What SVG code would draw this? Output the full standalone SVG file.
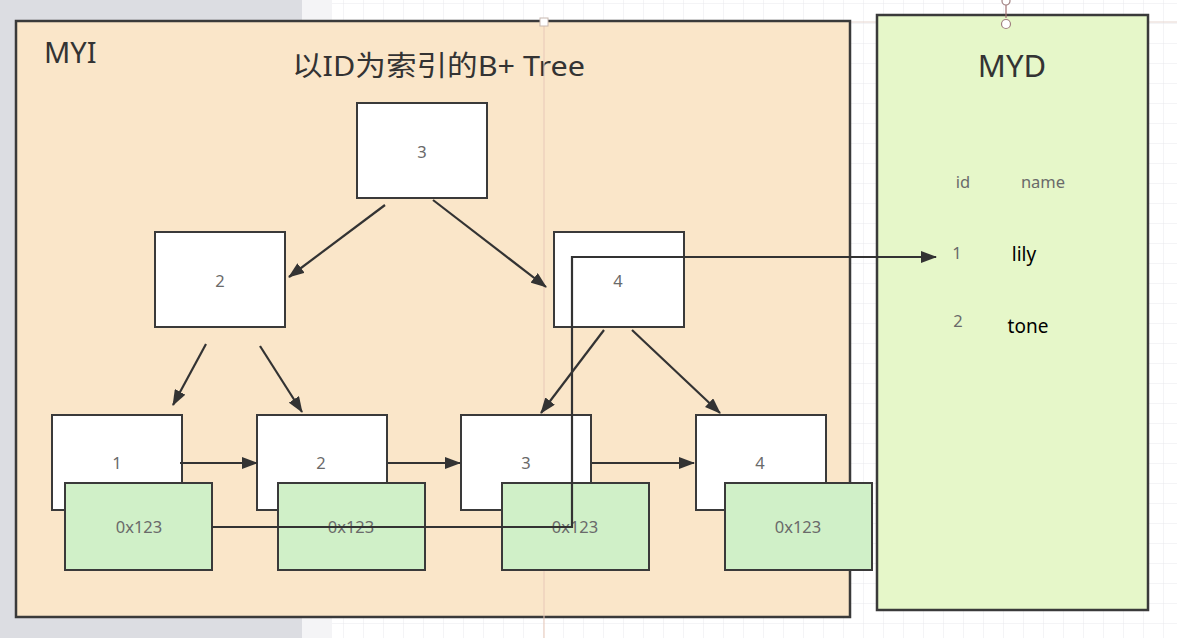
<svg xmlns="http://www.w3.org/2000/svg" width="1177" height="638" viewBox="0 0 1177 638">
<defs>
<pattern id="grid" width="20" height="20" patternUnits="userSpaceOnUse" x="4" y="4">
<path d="M20 0 V20 M0 20 H20" fill="none" stroke="#e9e9ec" stroke-width="1"/>
</pattern>
<marker id="arrBig" viewBox="0 0 16 12" refX="15" refY="6" markerWidth="16" markerHeight="12" markerUnits="userSpaceOnUse" orient="auto">
<path d="M0 0 L16 6 L0 12 Z" fill="#333"/>
</marker>
</defs>
<style>
.box{fill:#ffffff;stroke:#3a3a3a;stroke-width:2}
.ptr{fill:#d0f0c8;stroke:#3a3a3a;stroke-width:2}
.lbl{font-family:"Noto Sans","Noto Sans CJK SC",sans-serif;font-size:16.5px;fill:#6a6a6a;text-anchor:middle}
.big{font-family:"Noto Sans","Noto Sans CJK SC",sans-serif;fill:#333}
.val{font-family:"Noto Sans","Noto Sans CJK SC",sans-serif;font-size:19px;fill:#000;text-anchor:middle}
.edge{stroke:#333;stroke-width:2.2;fill:none}
</style>
<rect width="1177" height="638" fill="#ffffff"/>
<rect x="300" y="0" width="877" height="638" fill="url(#grid)"/>
<rect x="0" y="0" width="302" height="638" fill="#dcdde2"/>
<rect x="302" y="0" width="30" height="638" fill="#f4f4f6"/>
<line x1="850" y1="22" x2="1177" y2="22" stroke="#e6d6d0" stroke-width="1"/>

<g id="MYI">
<rect x="16" y="21" width="834" height="596" fill="#fae6c9" stroke="#3a3a3a" stroke-width="2.5"/>
<text x="44" y="63" class="big" font-size="29">MYI</text>
<text x="292" y="76" class="big" font-size="28" textLength="293" lengthAdjust="spacingAndGlyphs">以ID为索引的B+ Tree</text>
</g>

<g id="MYD">
<rect x="877" y="15" width="271" height="595" fill="#e6f7c9" stroke="#3a3a3a" stroke-width="2.5"/>
<text x="1012" y="77" class="big" font-size="31" text-anchor="middle">MYD</text>
<text x="963" y="188" class="lbl">id</text>
<text x="1043" y="188" class="lbl">name</text>
<text x="957" y="259" class="lbl">1</text>
<text x="1024" y="261" class="val">lily</text>
<text x="958" y="327" class="lbl">2</text>
<text x="1028" y="333" class="val">tone</text>
</g>

<g id="guides">
<line x1="544" y1="22" x2="544" y2="638" stroke="#e8c8b8" stroke-width="1"/>
<rect x="540" y="18" width="8" height="8" fill="#fff" stroke="#c8b8b0" stroke-width="1"/>
<line x1="1006" y1="0" x2="1006" y2="18" stroke="#a07070" stroke-width="1.2"/>
<circle cx="1006" cy="1" r="4" fill="#fff" stroke="#a08080" stroke-width="1.2"/>
<circle cx="1006" cy="24" r="4.5" fill="#fff" stroke="#a08080" stroke-width="1.2"/>
</g>

<g id="root3"><rect class="box" x="357" y="103" width="130" height="95"/><text x="422" y="158" class="lbl">3</text></g>
<g id="node2"><rect class="box" x="155" y="232" width="130" height="95"/><text x="220" y="287" class="lbl">2</text></g>
<g id="node4"><rect class="box" x="554" y="232" width="130" height="95"/><text x="618" y="287" class="lbl">4</text></g>

<g id="leaf1"><rect class="box" x="52" y="415" width="130" height="95"/><text x="117" y="469" class="lbl">1</text></g>
<g id="leaf2"><rect class="box" x="257" y="415" width="130" height="95"/><text x="321" y="469" class="lbl">2</text></g>
<g id="leaf3"><rect class="box" x="461" y="415" width="130" height="95"/><text x="526" y="469" class="lbl">3</text></g>
<g id="leaf4"><rect class="box" x="696" y="415" width="130" height="95"/><text x="760" y="469" class="lbl">4</text></g>

<g id="ptr1"><rect class="ptr" x="65" y="483" width="147" height="87"/><text x="139" y="533" class="lbl">0x123</text></g>
<g id="ptr2"><rect class="ptr" x="278" y="483" width="147" height="87"/><text x="351" y="533" class="lbl">0x123</text></g>
<g id="ptr3"><rect class="ptr" x="502" y="483" width="147" height="87"/><text x="575" y="533" class="lbl">0x123</text></g>
<g id="ptr4"><rect class="ptr" x="725" y="483" width="147" height="87"/><text x="798" y="533" class="lbl">0x123</text></g>

<g id="connectors">
<line class="edge" x1="385" y1="205" x2="289" y2="277" marker-end="url(#arrBig)"/>
<line class="edge" x1="433" y1="200" x2="546" y2="287" marker-end="url(#arrBig)"/>
<line class="edge" x1="206" y1="344" x2="173" y2="405" marker-end="url(#arrBig)"/>
<line class="edge" x1="260" y1="346" x2="302" y2="412" marker-end="url(#arrBig)"/>
<line class="edge" x1="604" y1="330" x2="541" y2="413" marker-end="url(#arrBig)"/>
<line class="edge" x1="632" y1="330" x2="720" y2="413" marker-end="url(#arrBig)"/>
<line class="edge" x1="180" y1="463" x2="257" y2="463" marker-end="url(#arrBig)"/>
<line class="edge" x1="388" y1="463" x2="460" y2="463" marker-end="url(#arrBig)"/>
<line class="edge" x1="592" y1="463" x2="694" y2="463" marker-end="url(#arrBig)"/>
<polyline class="edge" points="212,527 572,527 572,257 936,257" marker-end="url(#arrBig)"/>
</g>
</svg>
